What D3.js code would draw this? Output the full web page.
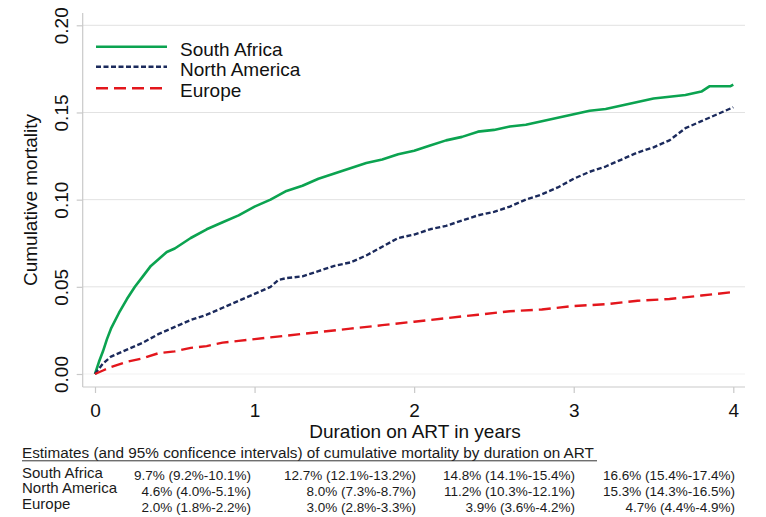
<!DOCTYPE html>
<html>
<head>
<meta charset="utf-8">
<script src="https://cdn.jsdelivr.net/npm/d3@7/dist/d3.min.js"></script>
<style>
  html, body { margin: 0; padding: 0; background: #fff; }
  svg { display: block; font-family: "Liberation Sans", Arial, sans-serif; }
</style>
</head>
<body>
<svg id="chart" width="766" height="517"></svg>
<script>
// ---------------- data ----------------
const seriesNames = ["South Africa", "North America", "Europe"];

const saTime  = [0, 0.025, 0.05, 0.075, 0.1, 0.15, 0.2, 0.25, 0.3, 0.35, 0.4, 0.45, 0.5, 0.6, 0.7, 0.8, 0.9, 1.0, 1.1, 1.2, 1.3, 1.4, 1.5, 1.6, 1.7, 1.8, 1.9, 2.0, 2.1, 2.2, 2.3, 2.4, 2.5, 2.6, 2.7, 2.8, 2.9, 3.0, 3.1, 3.2, 3.3, 3.4, 3.5, 3.6, 3.7, 3.8, 3.85, 3.9, 3.98, 4.0];
const saValue = [0, 0.007, 0.013, 0.020, 0.026, 0.035, 0.043, 0.050, 0.056, 0.062, 0.066, 0.070, 0.072, 0.078, 0.083, 0.087, 0.091, 0.096, 0.100, 0.105, 0.108, 0.112, 0.115, 0.118, 0.121, 0.123, 0.126, 0.128, 0.131, 0.134, 0.136, 0.139, 0.140, 0.142, 0.143, 0.145, 0.147, 0.149, 0.151, 0.152, 0.154, 0.156, 0.158, 0.159, 0.160, 0.162, 0.165, 0.165, 0.165, 0.166];

const naTime  = [0, 0.05, 0.1, 0.2, 0.3, 0.4, 0.5, 0.6, 0.7, 0.8, 0.9, 1.0, 1.1, 1.15, 1.2, 1.3, 1.4, 1.5, 1.6, 1.7, 1.8, 1.9, 2.0, 2.1, 2.2, 2.3, 2.4, 2.5, 2.6, 2.7, 2.8, 2.9, 3.0, 3.1, 3.2, 3.3, 3.4, 3.5, 3.6, 3.7, 3.8, 3.9, 4.0];
const naValue = [0, 0.006, 0.010, 0.014, 0.018, 0.023, 0.027, 0.031, 0.034, 0.038, 0.042, 0.046, 0.050, 0.054, 0.055, 0.056, 0.059, 0.062, 0.064, 0.068, 0.073, 0.078, 0.080, 0.083, 0.085, 0.088, 0.091, 0.093, 0.096, 0.100, 0.103, 0.107, 0.112, 0.116, 0.119, 0.123, 0.127, 0.130, 0.134, 0.141, 0.145, 0.149, 0.153];

const euTime  = [0, 0.05, 0.1, 0.2, 0.3, 0.4, 0.5, 0.6, 0.7, 0.8, 0.9, 1.0, 1.2, 1.4, 1.6, 1.8, 2.0, 2.2, 2.4, 2.6, 2.8, 3.0, 3.2, 3.4, 3.6, 3.8, 4.0];
const euValue = [0, 0.002, 0.004, 0.007, 0.009, 0.012, 0.013, 0.015, 0.016, 0.018, 0.019, 0.020, 0.022, 0.024, 0.026, 0.028, 0.030, 0.032, 0.034, 0.036, 0.037, 0.039, 0.040, 0.042, 0.043, 0.045, 0.047];

const xTicks = [0, 1, 2, 3, 4];
const yTicks = [0, 0.05, 0.10, 0.15, 0.20];

const tableTitle = "Estimates (and 95% conficence intervals) of cumulative mortality by duration on ART";
const tableRows = ["South Africa", "North America", "Europe"];
const saEstimates = ["9.7% (9.2%-10.1%)", "12.7% (12.1%-13.2%)", "14.8% (14.1%-15.4%)", "16.6% (15.4%-17.4%)"];
const naEstimates = ["4.6% (4.0%-5.1%)", "8.0% (7.3%-8.7%)", "11.2% (10.3%-12.1%)", "15.3% (14.3%-16.5%)"];
const euEstimates = ["2.0% (1.8%-2.2%)", "3.0% (2.8%-3.3%)", "3.9% (3.6%-4.2%)", "4.7% (4.4%-4.9%)"];

// ---------------- layout ----------------
const svg = d3.select("#chart");
svg.append("rect").attr("width", 766).attr("height", 517).attr("fill", "#fff");

const plot = { left: 82.7, right: 745, top: 13, bottom: 387 };
const x = d3.scaleLinear().domain([0, 4]).range([95, 733.3]);
const y = d3.scaleLinear().domain([0, 0.20]).range([374, 25.3]);

const axisColor = "#c9c9c9";
const gridColor = "#e2e2e2";

// gridlines
svg.append("g").selectAll("line").data(yTicks).join("line")
  .attr("x1", plot.left).attr("x2", plot.right)
  .attr("y1", d => y(d)).attr("y2", d => y(d))
  .attr("stroke", d => d === 0 ? "#f1f1f1" : gridColor)
  .attr("stroke-width", 1);

// y axis
const yAxis = svg.append("g").attr("transform", `translate(${plot.left},0)`)
  .call(d3.axisLeft(y).tickValues(yTicks).tickSize(6).tickSizeOuter(0).tickFormat(d3.format(".2f")));
yAxis.select(".domain").attr("d", `M0,${plot.top}V${plot.bottom}`).attr("stroke", axisColor).attr("stroke-width", 1.2);
yAxis.selectAll(".tick line").attr("stroke", axisColor).attr("stroke-width", 1.2);
yAxis.selectAll(".tick text")
  .attr("x", null).attr("dy", null)
  .attr("transform", "translate(-14.5,0) rotate(-90)")
  .attr("text-anchor", "middle")
  .attr("font-size", 19)
  .attr("font-family", "Liberation Sans, Arial, sans-serif")
  .attr("fill", "#111");

// x axis
const xAxis = svg.append("g").attr("transform", `translate(0,${plot.bottom})`)
  .call(d3.axisBottom(x).tickValues(xTicks).tickSize(6).tickSizeOuter(0).tickFormat(d3.format("d")));
xAxis.select(".domain").attr("d", `M${plot.left},0H${plot.right}`).attr("stroke", axisColor).attr("stroke-width", 1.2);
xAxis.selectAll(".tick line").attr("stroke", axisColor).attr("stroke-width", 1.2);
xAxis.selectAll(".tick text")
  .attr("y", 29.5).attr("dy", null)
  .attr("font-size", 19)
  .attr("font-family", "Liberation Sans, Arial, sans-serif")
  .attr("fill", "#111");

// axis titles
svg.append("text")
  .attr("transform", `translate(37,${(plot.top + plot.bottom) / 2}) rotate(-90)`)
  .attr("text-anchor", "middle").attr("font-size", 19).attr("fill", "#111")
  .text("Cumulative mortality");
svg.append("text")
  .attr("x", 415).attr("y", 437.5)
  .attr("text-anchor", "middle").attr("font-size", 19).attr("fill", "#111")
  .text("Duration on ART in years");

// ---------------- lines ----------------
const styles = [
  { color: "#0ba350", dash: null, width: 2.6 },
  { color: "#1b2a5c", dash: "5,2.5", width: 2.4 },
  { color: "#e3161c", dash: "12,6", width: 2.4 }
];
const seriesData = [
  saTime.map((t, i) => [t, saValue[i]]),
  naTime.map((t, i) => [t, naValue[i]]),
  euTime.map((t, i) => [t, euValue[i]])
];
const line = d3.line().x(d => x(d[0])).y(d => y(d[1]));

svg.append("g").selectAll("path").data(seriesData).join("path")
  .attr("d", line)
  .attr("fill", "none")
  .attr("stroke", (d, i) => styles[i].color)
  .attr("stroke-width", (d, i) => styles[i].width)
  .attr("stroke-dasharray", (d, i) => styles[i].dash)
  .attr("stroke-linejoin", "round");

// ---------------- legend ----------------
const legendLineY = [46.7, 66.7, 88.3];
const legendTextY = [56, 76, 97];
const legend = svg.append("g");
legend.selectAll("line").data(seriesNames).join("line")
  .attr("x1", 96).attr("x2", 167)
  .attr("y1", (d, i) => legendLineY[i]).attr("y2", (d, i) => legendLineY[i])
  .attr("stroke", (d, i) => styles[i].color)
  .attr("stroke-width", (d, i) => styles[i].width)
  .attr("stroke-dasharray", (d, i) => styles[i].dash);
legend.selectAll("text").data(seriesNames).join("text")
  .attr("x", 180).attr("y", (d, i) => legendTextY[i])
  .attr("font-size", 19).attr("fill", "#111")
  .text(d => d);

// ---------------- table ----------------
const table = svg.append("g").attr("fill", "#1a1a1a");
table.append("text")
  .attr("x", 22).attr("y", 458.3)
  .attr("font-size", 15.3)
  .text(tableTitle);
table.append("line")
  .attr("x1", 22).attr("x2", 597).attr("y1", 460.8).attr("y2", 460.8)
  .attr("stroke", "#333").attr("stroke-width", 1);

const rowBase = [477.5, 493.3, 509];
const colRight = [251, 416, 575, 735];
const estimates = [saEstimates, naEstimates, euEstimates];

table.selectAll("text.row").data(tableRows).join("text")
  .attr("class", "row")
  .attr("x", 22).attr("y", (d, i) => rowBase[i])
  .attr("font-size", 15)
  .text(d => d);

estimates.forEach((vals, r) => {
  table.selectAll(`text.v${r}`).data(vals).join("text")
    .attr("class", `v${r}`)
    .attr("x", (d, c) => colRight[c])
    .attr("y", rowBase[r] + 2.8)
    .attr("text-anchor", "end")
    .attr("font-size", 13.5)
    .text(d => d);
});
</script>
</body>
</html>
